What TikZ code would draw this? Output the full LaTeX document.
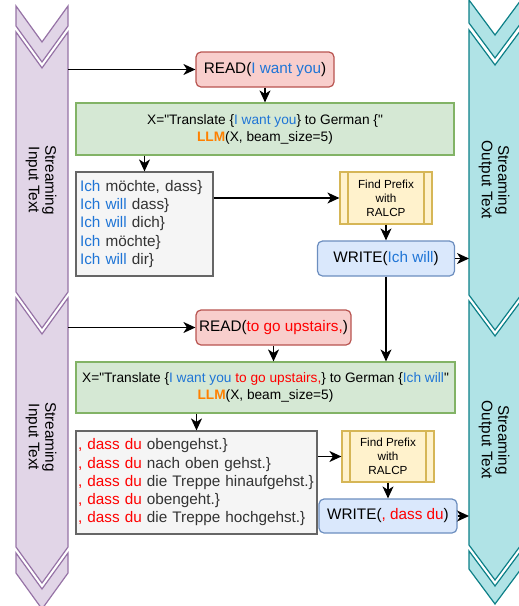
\documentclass[tikz,border=0pt]{standalone}
\usepackage{fontspec}
\setmainfont{Liberation Sans}[Ligatures=TeXOff]
\usetikzlibrary{arrows.meta}
\definecolor{inFill}{HTML}{E1D5E7}
\definecolor{inDraw}{HTML}{9673A6}
\definecolor{outFill}{HTML}{B0E3E6}
\definecolor{outDraw}{HTML}{0E8088}
\definecolor{readFill}{HTML}{F8CECC}
\definecolor{readDraw}{HTML}{B85450}
\definecolor{llmFill}{HTML}{D5E8D4}
\definecolor{llmDraw}{HTML}{82B366}
\definecolor{candFill}{HTML}{F5F5F5}
\definecolor{candDraw}{HTML}{666666}
\definecolor{candText}{HTML}{333333}
\definecolor{fpFill}{HTML}{FFF2CC}
\definecolor{fpDraw}{HTML}{D6B656}
\definecolor{writeFill}{HTML}{DAE8FC}
\definecolor{writeDraw}{HTML}{6C8EBF}
\definecolor{txtBlue}{HTML}{1F75D6}
\definecolor{txtRed}{HTML}{FF0000}
\definecolor{llmOrange}{HTML}{FF8000}
\newcommand\bl[1]{\textcolor{txtBlue}{#1}}
\newcommand\rd[1]{\textcolor{txtRed}{#1}}
\newcommand\llmword{\textcolor{llmOrange}{\textbf{LLM}}}
\newcommand\mainsz{\fontsize{15.3}{18.25}\selectfont}
\newcommand\greensz{\fontsize{13.7}{17}\selectfont}
\newcommand\fpsz{\fontsize{11.7}{14}\selectfont}
\newcommand\colsz{\fontsize{15.3}{16.5}\selectfont}
% chevron piece: style, x0, x1, ytop, ybot, depth
\newcommand\chevpiece[6]{%
  \filldraw[#1] (#2,#4) -- ({(#2+#3)/2},{#4+#6}) -- (#3,#4) -- (#3,#5)
    -- ({(#2+#3)/2},{#5+#6}) -- (#2,#5) -- cycle;}
\tikzset{
  instep/.style={fill=inFill, draw=inDraw, line width=1.2pt, line join=miter},
  outstep/.style={fill=outFill, draw=outDraw, line width=1.2pt, line join=miter},
  box/.style={draw, line width=1.2pt, inner sep=0pt, align=center, font=\mainsz},
  readbox/.style={box, fill=readFill, draw=readDraw, rounded corners=5pt},
  llmbox/.style={box, fill=llmFill, draw=llmDraw, font=\greensz},
  candbox/.style={box, fill=candFill, draw=candDraw, align=left, text=candText,
    inner xsep=4pt, font={\mainsz\hyphenpenalty=10000\exhyphenpenalty=10000}},
  writebox/.style={box, fill=writeFill, draw=writeDraw, rounded corners=5pt},
  fpbox/.style={box, fill=fpFill, draw=fpDraw, font=\fpsz,
    path picture={
      \draw[fpDraw, line width=1.2pt]
        ([xshift=8pt]path picture bounding box.north west) --
        ([xshift=8pt]path picture bounding box.south west)
        ([xshift=-8pt]path picture bounding box.north east) --
        ([xshift=-8pt]path picture bounding box.south east);}},
  coltext/.style={font=\colsz, align=center, rotate=-90},
  conn/.style={line width=1.3pt, -{Stealth[length=12pt, width=11pt, inset=3.5pt]}}
}
\begin{document}
\begin{tikzpicture}[x=1pt, y=-1pt]
\useasboundingbox (0,0) rectangle (519,606);
% left column
\chevpiece{instep}{16}{68}{6}{26}{36}
\chevpiece{instep}{16}{68}{32}{292}{36}
\chevpiece{instep}{16}{68}{298}{547}{36}
\chevpiece{instep}{16}{68}{553}{573}{36}
% right column
\chevpiece{outstep}{469}{521}{0}{23}{35}
\chevpiece{outstep}{469}{521}{30}{295}{35}
\chevpiece{outstep}{469}{521}{301}{545}{35}
\chevpiece{outstep}{469}{521}{551}{569}{35}
\node[coltext] (inT1) at (41,180) {Streaming\\Input Text};
\node[coltext] (inT2) at (41,437) {Streaming\\Input Text};
\node[coltext] (outT1) at (494,180) {Streaming\\Output Text};
\node[coltext] (outT2) at (494,440) {Streaming\\Output Text};
\coordinate (inL1) at (68,69.5);
\coordinate (inL2) at (68,327.5);
\coordinate (outR1) at (469,258.5);
\coordinate (outR2) at (469,516);
% step 1
\node[readbox, minimum width=138pt, minimum height=35pt] (read1) at (265,69.5)
  {READ(\bl{I want you})};
\node[llmbox, minimum width=378pt, minimum height=52pt] (llm1) at (265,129)
  {X="Translate \{\bl{I want you}\} to German \{"\\\llmword(X, beam\_size=5)};
\node[candbox, text width=129pt, minimum height=104pt] (cand1) at (144.5,224)
  {\bl{Ich} möchte, dass\}\\\bl{Ich will} dass\}\\\bl{Ich will} dich\}\\\bl{Ich} möchte\}\\\bl{Ich will} dir\}};
\node[fpbox, minimum width=92pt, minimum height=52pt] (fp1) at (386,198)
  {Find Prefix\\with\\RALCP};
\node[writebox, minimum width=137pt, minimum height=35pt] (write1) at (386,258.5)
  {WRITE(\bl{Ich will})};
% step 2
\node[readbox, minimum width=155pt, minimum height=35pt] (read2) at (273.5,327.5)
  {READ(\rd{to go upstairs,})};
\node[llmbox, minimum width=379pt, minimum height=51pt] (llm2) at (265.5,387.5)
  {X="Translate \{\bl{I want you} \rd{to go upstairs,}\} to German \{\bl{Ich will}"\\\llmword(X, beam\_size=5)};
\node[candbox, text width=237pt, minimum height=103pt, inner xsep=2pt] (cand2) at (196.5,482.5)
  {\rd{, dass du} obengehst.\}\\\rd{, dass du} nach oben gehst.\}\\\rd{, dass du} die Treppe hinaufgehst.\}\\\rd{, dass du} obengeht.\}\\\rd{, dass du} die Treppe hochgehst.\}};
\node[fpbox, minimum width=92pt, minimum height=51pt] (fp2) at (388,456.5)
  {Find Prefix\\with\\RALCP};
\node[writebox, minimum width=138pt, minimum height=34pt] (write2) at (388,516)
  {WRITE(\rd{, dass du})};
% connectors
\draw[conn] (inL1) -- (read1.west);
\draw[conn] (read1.south) -- (llm1.north);
\draw[conn] (llm1.south -| cand1.north) -- (cand1.north);
\draw[conn] (cand1.east |- fp1.west) -- (fp1.west);
\draw[conn] (fp1.south) -- (write1.north);
\draw[conn] (write1.east) -- (outR1);
\draw[conn] (write1.south) -- (write1.south |- llm2.north);
\draw[conn] (inL2) -- (read2.west);
\draw[conn] (read2.south) -- (read2.south |- llm2.north);
\draw[conn] (llm2.south -| cand2.north) -- (cand2.north);
\draw[conn] (cand2.east |- fp2.west) -- (fp2.west);
\draw[conn] (fp2.south) -- (write2.north);
\draw[conn] (write2.east) -- (outR2);
\end{tikzpicture}
\end{document}
